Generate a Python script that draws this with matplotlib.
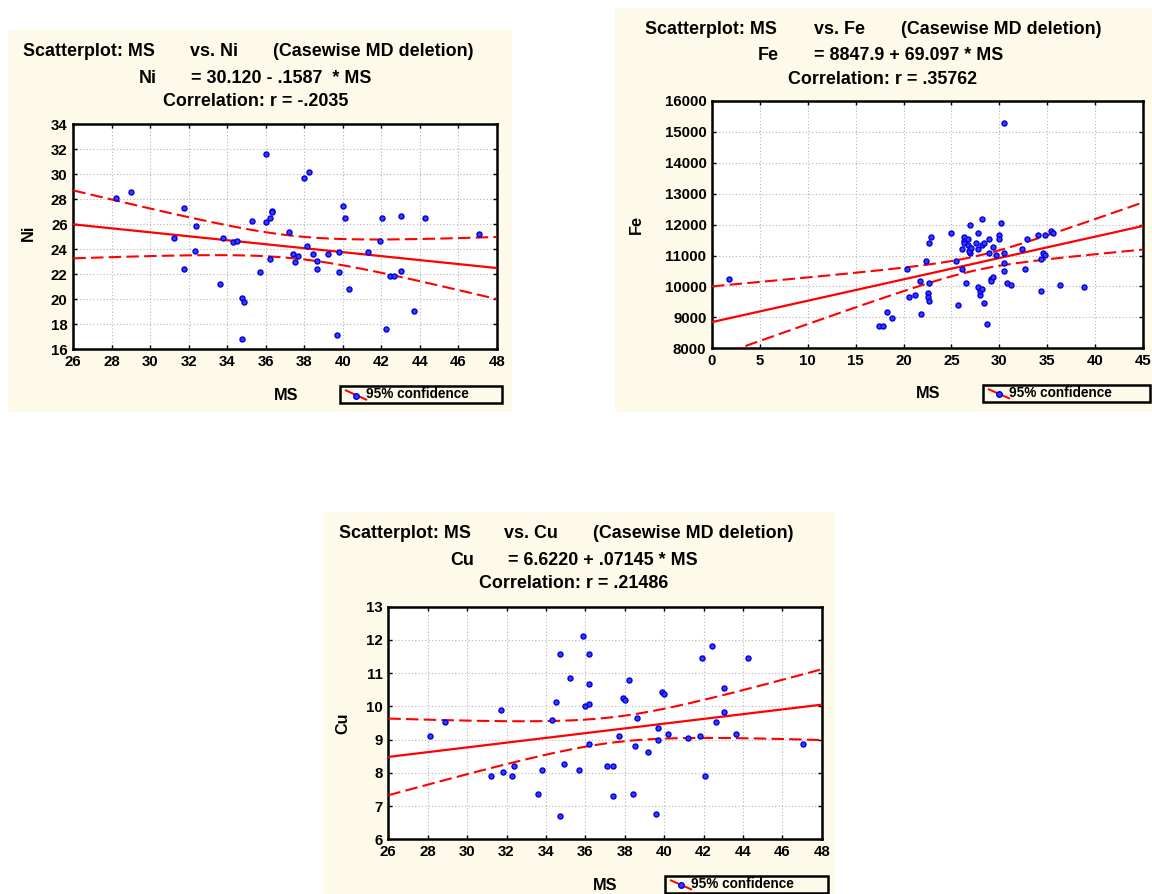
import numpy as np
import matplotlib
matplotlib.use("Agg")
import matplotlib.pyplot as plt
from matplotlib.patches import Rectangle
from matplotlib.lines import Line2D

plt.rcParams['font.family'] = ['Liberation Sans', 'DejaVu Sans']
plt.rcParams['font.weight'] = 'bold'

ms_ni = [28.2, 29.0, 31.25, 31.75, 31.75, 32.3, 32.4, 33.6, 33.8, 34.3,
         34.5, 34.75, 34.85, 34.75, 35.3, 35.7, 36.0, 36.0, 36.2, 36.2,
         36.3, 36.3, 37.2, 37.4, 37.5, 37.7, 38.0, 38.25, 38.15, 38.45,
         38.65, 38.65, 39.25, 39.7, 39.8, 39.8, 40.0, 40.1, 40.3, 41.3,
         41.95, 42.05, 42.25, 42.45, 42.65, 43.05, 43.05, 43.7, 44.3, 47.1]
ni = [28.1, 28.55, 24.9, 27.3, 22.45, 23.9, 25.85, 21.2, 24.9, 24.55,
      24.7, 20.1, 19.75, 16.85, 26.3, 22.15, 31.6, 26.15, 26.5, 23.25,
      27.1, 26.95, 25.35, 23.6, 22.95, 23.45, 29.7, 30.15, 24.25, 23.6,
      23.1, 22.45, 23.6, 17.15, 23.75, 22.15, 27.45, 26.5, 20.85, 23.75,
      24.7, 26.5, 17.65, 21.85, 21.85, 26.65, 22.3, 19.1, 26.5, 25.2]

ms_fe = [1.8, 17.4, 17.9, 18.3, 18.8, 20.4, 20.6, 21.2, 21.7, 21.8,
         22.3, 22.5, 22.5, 22.7, 22.7, 22.7, 22.9, 25.0, 25.5, 25.7,
         26.1, 26.1, 26.3, 26.3, 26.3, 26.5, 26.7, 26.7, 26.9, 26.9,
         26.9, 27.6, 27.8, 27.8, 27.8, 28.0, 28.0, 28.2, 28.2, 28.2,
         28.4, 28.4, 28.7, 28.9, 28.9, 29.1, 29.1, 29.3, 29.3, 29.7,
         30.0, 30.0, 30.2, 30.5, 30.5, 30.5, 30.5, 30.8, 31.2, 32.4,
         32.7, 32.9, 34.0, 34.4, 34.4, 34.6, 34.8, 34.8, 35.4, 35.6,
         36.3, 38.8, 26.8, 27.0]
fe = [10230, 8730, 8730, 9190, 8990, 10550, 9650, 9710, 10170, 9120,
      10810, 9780, 9650, 9520, 11400, 10100, 11590, 11720, 10810, 9390,
      10550, 11200, 11590, 11460, 11400, 10100, 11530, 11330, 11980, 11200,
      11070, 11400, 11720, 11200, 9970, 9710, 9840, 9910, 12170, 11330,
      11400, 9450, 8800, 11070, 11530, 10230, 10170, 11270, 10300, 11010,
      11660, 11530, 12040, 15280, 11070, 10750, 10490, 10100, 10040, 11200,
      10550, 11530, 11660, 9840, 10880, 11070, 11010, 11660, 11780, 11720,
      10040, 9970, 11150, 11260]

ms_cu = [28.1, 28.9, 31.2, 31.7, 31.8, 32.3, 32.4, 33.6, 33.8, 34.3,
         34.5, 34.7, 34.7, 34.9, 35.2, 35.7, 35.9, 36.0, 36.2, 36.2,
         36.2, 36.2, 37.1, 37.4, 37.4, 37.7, 37.9, 38.0, 38.2, 38.4,
         38.5, 38.6, 39.2, 39.6, 39.7, 39.7, 39.9, 40.0, 40.2, 41.2,
         41.8, 41.9, 42.1, 42.45, 42.65, 43.05, 43.05, 43.65, 44.25, 47.05]
cu = [9.10, 9.53, 7.90, 9.89, 8.02, 7.90, 8.20, 7.35, 8.08, 9.59,
      10.13, 11.58, 6.69, 8.26, 10.85, 8.08, 12.13, 10.01, 10.07, 11.58,
      10.67, 8.86, 8.20, 8.20, 7.29, 9.10, 10.25, 10.19, 10.79, 7.35,
      8.80, 9.65, 8.62, 6.75, 9.35, 8.99, 10.43, 10.37, 9.17, 9.04,
      9.10, 11.47, 7.90, 11.83, 9.53, 10.55, 9.83, 9.17, 11.47, 8.86]

# regression coefficients printed in the titles
ni_coef = (30.120, -0.1587)
fe_coef = (8847.9, 69.097)
cu_coef = (6.6220, 0.07145)

W, H = 1152, 894
BG = '#FEFAEA'
PT_FACE = '#3a3aff'
PT_EDGE = '#0000dd'


def fx(px):
    return px / W


def fy(py):
    return 1 - py / H


def t975(df):
    # Cornish-Fisher approximation of the t quantile
    z = 1.959964
    return z + (z**3 + z) / (4 * df) + (5 * z**5 + 16 * z**3 + 3 * z) / (96 * df**2)


fig = plt.figure(figsize=(W / 100, H / 100), dpi=100)
fig.patch.set_facecolor('white')


def panel(x, y, coef, var, bg, box, xlim, xticks, ylim, yticks, titles, xlab, ylab, leg):
    x = np.asarray(x, float)
    y = np.asarray(y, float)
    # cream background
    bx0, by0, bx1, by1 = bg
    fig.add_artist(Rectangle((fx(bx0), fy(by1)), fx(bx1) - fx(bx0), fy(by0) - fy(by1),
                             transform=fig.transFigure, facecolor=BG, edgecolor='none', zorder=0))
    l, t, r, b = box
    ax = fig.add_axes([fx(l), fy(b), fx(r) - fx(l), fy(t) - fy(b)])
    ax.set_facecolor('white')

    a, s_ = coef
    xs = np.linspace(xlim[0], xlim[1], 200)
    yhat = a + s_ * xs
    n = len(x)
    resid = y - (a + s_ * x)
    s = np.sqrt(np.sum(resid**2) / (n - 2))
    sxx = np.sum((x - x.mean())**2)
    half = t975(n - 2) * s * np.sqrt(1 / n + (xs - x.mean())**2 / sxx)

    ax.plot(xs, yhat, color='#ff0000', lw=1.6, zorder=3)
    ax.plot(xs, yhat + half, color='#ff0000', lw=1.5, ls=(0, (6, 2.5)), zorder=3)
    ax.plot(xs, yhat - half, color='#ff0000', lw=1.5, ls=(0, (6, 2.5)), zorder=3)
    ax.scatter(x, y, s=13, facecolors=PT_FACE, edgecolors=PT_EDGE, linewidths=1.0, zorder=4)

    ax.set_xlim(xlim)
    ax.set_ylim(ylim)
    ax.set_xticks(xticks)
    ax.set_yticks(yticks)
    ax.grid(True, color='#b4b4b4', lw=0.8, ls=(0, (1, 2)))
    ax.set_axisbelow(True)
    ax.tick_params(direction='in', length=3, width=1, top=True, right=True,
                   labelsize=10.8, pad=4)
    for sp in ax.spines.values():
        sp.set_linewidth(1.8)

    # titles
    for txt, px, py, ha in titles:
        fig.text(fx(px), fy(py), txt, fontsize=12.9, fontweight='bold', ha=ha, va='center')
    fig.text(fx(xlab[0]), fy(xlab[1]), 'MS', fontsize=11.7, fontweight='bold', ha='center', va='center')
    fig.text(fx(ylab[0]), fy(ylab[1]), var, fontsize=11.7, fontweight='bold', ha='center',
             va='center', rotation=90)

    # legend box
    lx0, ly0, lx1, ly1 = leg
    fig.add_artist(Rectangle((fx(lx0), fy(ly1)), fx(lx1) - fx(lx0), fy(ly0) - fy(ly1),
                             transform=fig.transFigure, facecolor='none', edgecolor='black',
                             lw=1.8, zorder=5))
    fig.add_artist(Line2D([fx(lx0 + 5), fx(lx0 + 27)], [fy(ly0 + 4), fy(ly1 - 3)],
                          transform=fig.transFigure, color='#ff0000', lw=1.4,
                          solid_capstyle='butt', zorder=6))
    fig.add_artist(Line2D([fx(lx0 + 16)], [fy((ly0 + ly1) / 2 + 1)], transform=fig.transFigure,
                          marker='o', ms=4, mfc=PT_FACE, mec=PT_EDGE, mew=1.0, zorder=7))
    fig.text(fx(lx0 + 26), fy((ly0 + ly1) / 2), '95% confidence', fontsize=9.8,
             fontweight='bold', ha='left', va='center')
    return ax


panel(ms_ni, ni, ni_coef, 'Ni', (8, 30, 512, 412), (73.3, 124.3, 496.7, 349.3),
      (26, 48), range(26, 49, 2), (16, 34), range(16, 35, 2),
      [('Scatterplot: MS', 23.3, 51.7, 'left'), ('vs. Ni', 190, 51.7, 'left'),
       ('(Casewise MD deletion)', 272.7, 51.7, 'left'), ('Ni', 138.3, 78.3, 'left'),
       ('= 30.120 - .1587  * MS', 190.7, 78.3, 'left'),
       ('Correlation: r = -.2035', 255.5, 101.7, 'center')],
      (285.8, 395), (28.3, 233.3), (340, 386, 502, 403))

panel(ms_fe, fe, fe_coef, 'Fe', (615, 8, 1152, 412), (712, 101, 1143, 348.3),
      (0, 45), range(0, 46, 5), (8000, 16000), range(8000, 16001, 1000),
      [('Scatterplot: MS', 645, 29.3, 'left'), ('vs. Fe', 813.5, 29.3, 'left'),
       ('(Casewise MD deletion)', 901, 29.3, 'left'), ('Fe', 758, 56, 'left'),
       ('= 8847.9 + 69.097 * MS', 814.2, 56, 'left'),
       ('Correlation: r = .35762', 883, 79.3, 'center')],
      (928, 394), (636.3, 225), (983, 385, 1150, 401.7))

panel(ms_cu, cu, cu_coef, 'Cu', (323, 512, 835, 894), (388.3, 606.7, 821.7, 839.3),
      (26, 48), range(26, 49, 2), (6, 13), range(6, 14, 1),
      [('Scatterplot: MS', 339, 534, 'left'), ('vs. Cu', 504.3, 534, 'left'),
       ('(Casewise MD deletion)', 593.3, 534, 'left'), ('Cu', 450, 560.7, 'left'),
       ('= 6.6220 + .07145 * MS', 507.7, 560.7, 'left'),
       ('Correlation: r = .21486', 573.8, 584, 'center')],
      (605, 885), (342.7, 723.3), (665, 876, 828, 892.7))

fig.savefig('out.png', dpi=100, facecolor='white')
